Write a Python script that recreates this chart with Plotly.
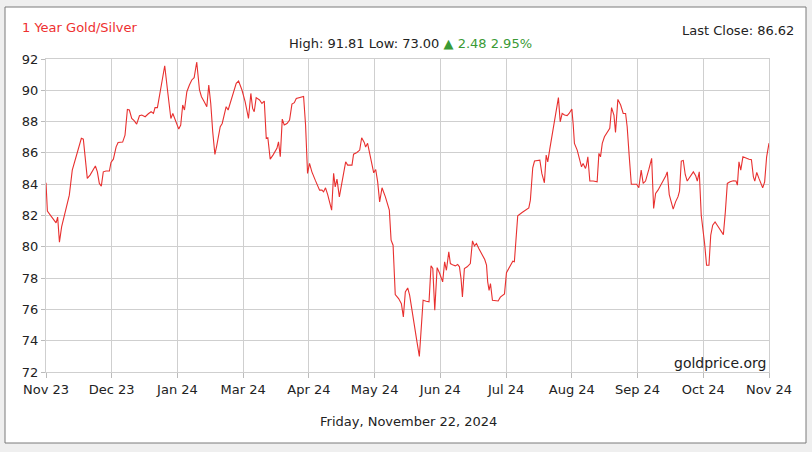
import pandas as pd
import numpy as np
import plotly.graph_objects as go

# ---- data (days after 2023-11-22, gold/silver ratio) ----
start_date = "2023-11-22"
days = [
    0.0, 0.7, 2.0, 4.6, 5.1, 5.9, 6.8, 7.9, 9.6, 11.8, 13.3, 14.2, 15.9, 17.9, 18.9,
    20.9, 22.3, 23.6, 25.0, 26.0, 27.0, 28.0, 29.0, 30.4, 32.1, 32.9, 34.1, 35.5, 36.5,
    38.8, 40.0, 41.2, 42.2, 43.4, 44.6, 45.9, 47.3, 48.5, 50.2, 51.8, 53.2, 54.4, 55.2,
    56.4, 57.8, 58.8, 60.1, 61.5, 63.2, 64.2, 65.4, 67.2, 68.2, 69.2, 70.1, 71.3, 72.6,
    73.8, 75.0, 76.3, 77.7, 78.7, 80.1, 81.4, 82.4, 83.4, 84.4, 85.5, 86.5, 88.2, 89.2,
    90.7,
    91.2, 92.2, 94.1, 96.3, 97.5, 99.2, 100.8, 102.5, 103.7, 104.6, 105.4, 106.4, 108.1,
    109.3, 110.5, 111.5, 112.3, 113.5, 114.9, 116.9, 117.7, 118.6, 119.6, 120.6, 122.0,
    123.3, 124.5, 125.7, 126.7, 128.7, 130.4, 131.4, 132.4, 133.4, 134.6, 136.3, 138.5,
    139.7, 140.5, 141.5, 142.6, 144.6, 145.6, 146.4, 147.3, 148.5, 150.3, 151.7, 152.7,
    154.9, 155.7, 157.4, 158.8, 159.8, 161.1, 161.8, 162.8, 163.8, 165.0, 165.9, 166.9,
    167.9, 168.9, 170.1, 171.8, 173.8, 174.7, 175.7, 176.8, 178.5, 179.9, 180.9,
    181.9, 183.1, 184.1, 185.3, 187.0, 187.8, 189.0, 189.8, 190.9, 192.5, 193.9, 194.9,
    195.8, 196.8, 198.0, 199.3, 200.8, 201.8, 202.7, 203.9, 204.7, 206.1, 207.2, 208.4,
    209.3, 210.1, 210.8, 211.8, 213.2, 214.8, 215.9, 216.9, 217.9, 219.1, 220.8, 222.1,
    223.0, 223.6, 224.3, 225.0, 226.0, 227.5, 228.9, 230.0, 232.1, 233.1, 234.3, 235.5,
    236.3, 237.1, 238.0, 238.8, 241.0, 242.7, 244.4, 245.2, 245.8, 246.4, 247.3, 250.0,
    251.0, 252.3, 253.2, 254.0, 255.0, 256.2, 257.4, 258.4, 259.4, 260.3, 261.3, 262.5,
    263.8, 264.8, 266.2, 266.9, 267.5, 268.9, 270.1, 271.1, 271.9, 273.1,
    273.6, 274.3, 275.3, 277.0, 279.0, 279.9, 280.7, 281.6, 282.7, 284.1, 285.4, 286.3,
    287.5, 288.3, 289.5, 290.9, 292.2, 293.4, 294.2, 295.2, 296.3, 297.6, 299.0, 300.1,
    301.3, 302.3, 303.5, 305.2, 306.6, 307.6, 308.6, 309.8, 311.1, 312.5, 313.7, 314.5,
    315.5, 316.5, 317.5, 318.7, 319.9, 320.7, 321.6, 322.6, 323.6, 324.6, 326.0, 327.7,
    328.9, 329.7, 330.7, 331.7, 333.4, 334.4, 335.6, 336.5, 337.5, 338.7, 339.8, 341.5,
    342.9, 343.9, 344.9, 346.3, 347.9, 349.3, 350.0, 350.8, 351.7, 352.8, 354.4, 355.9,
    357.1, 358.1, 358.8, 359.8, 360.9, 362.8, 363.8, 364.8, 366.0,
]
ratio = [
    84.09, 82.28, 82.06, 81.6, 81.53, 81.9, 80.3, 81.27, 82.13, 83.3, 84.9, 85.33, 85.97, 86.93, 86.88,
    84.37, 84.58, 84.9, 85.16, 84.79, 84.05, 83.88, 84.79, 84.84, 84.84, 85.39, 85.6, 86.39, 86.67,
    86.69, 87.14, 88.78, 88.74, 88.2, 88.06, 87.84, 88.37, 88.42, 88.31, 88.5, 88.63, 88.52, 88.89,
    88.89, 89.91, 90.55, 91.57, 90.02, 88.2, 88.52, 88.14, 87.52, 87.78, 89.06, 88.74, 89.91, 90.34,
    90.66, 90.81, 91.81, 90.02, 89.59, 89.27, 88.95, 90.34, 89.16, 87.35, 85.9, 86.5, 87.67, 87.88,
    88.63,
    88.95, 88.74, 89.48, 90.44, 90.59, 90.02, 89.27, 88.2, 89.8, 88.84, 88.63, 89.53, 89.38,
    89.16, 89.31, 86.93, 86.97, 85.6, 85.86, 86.29, 86.71, 85.75, 88.16, 87.78, 87.88,
    88.1, 89.12, 89.21, 89.48, 89.55, 89.61, 87.78, 84.69, 85.33, 84.79, 84.26, 83.62,
    83.62, 83.51, 83.77, 83.34, 82.34, 84.69, 83.83, 84.32, 83.19, 84.58, 85.43, 85.22,
    85.22, 85.92, 86.03, 86.18, 86.97, 86.67, 86.37, 86.61, 86.03, 85.33, 84.73, 84.94,
    84.15, 82.87, 83.77, 83.19, 82.34, 80.42, 80.1, 76.95, 76.69, 76.37, 75.52,
    77.12, 77.37, 76.9, 75.84, 74.56, 73.92, 73.00, 74.77, 76.58, 76.52, 76.48, 78.78,
    78.61, 75.94, 78.67, 78.29, 77.76, 79.04, 78.5, 79.68, 78.93, 78.83, 78.78, 78.87,
    78.72, 77.97, 76.8, 78.61, 78.72, 78.93, 80.38, 80.06, 80.21, 79.89, 79.46, 79.19,
    78.83, 77.76, 77.22, 77.65, 76.58, 76.54, 76.54, 76.78, 76.99, 78.35, 78.61, 78.87,
    79.08, 79.04, 80.74, 81.98, 82.19, 82.34, 82.49, 82.98, 84.26, 85.05, 85.48, 85.54,
    84.69, 84.09, 85.86, 85.43, 86.22, 87.14, 88.1, 88.84, 89.53, 87.99, 88.52, 88.42,
    88.38, 88.52, 88.8, 87.78, 86.61, 86.18, 85.65, 85.11, 85.33, 85.01,
    85.22, 85.75, 84.2, 84.2, 84.15, 85.97, 85.75, 86.61, 87.03, 87.35, 87.57, 88.89,
    88.42, 87.31, 89.42, 89.06, 88.52, 88.52, 87.67, 85.86, 84.0, 84.0, 84.0, 83.77,
    84.9, 84.05, 84.2, 84.96, 85.65, 82.45, 83.41, 83.62, 83.9, 84.26, 84.52, 84.79,
    83.34, 82.87, 82.41, 82.87, 83.19, 83.56, 85.48, 85.52, 84.62, 84.2, 84.47, 84.79,
    84.54, 84.2, 84.79, 82.02, 80.21, 78.82, 78.82, 80.74, 81.38, 81.59, 81.38, 81.06,
    80.78, 82.23, 84.05, 84.15, 84.22, 84.2, 83.94, 85.43, 84.9, 85.75, 85.65, 85.6,
    85.56, 84.47, 84.2, 84.75, 84.37, 83.77, 84.15, 85.75, 86.62,
]
tick_labels = ["Nov 23", "Dec 23", "Jan 24", "Mar 24", "Apr 24", "May 24",
               "Jun 24", "Jul 24", "Aug 24", "Sep 24", "Oct 24", "Nov 24"]
span_days = 366
y_ticks = [72, 74, 76, 78, 80, 82, 84, 86, 88, 90, 92]

title_text = "1 Year Gold/Silver"
last_close_text = "Last Close: 86.62"
stats_text = "High: 91.81 Low: 73.00 "
change_text = "\u25b2 2.48 2.95%"
date_text = "Friday, November 22, 2024"
brand_text = "goldprice.org"

# ---- build ----
t0 = pd.Timestamp(start_date)
x = t0 + pd.to_timedelta(days, unit="D")
tickvals = [t0 + pd.Timedelta(days=float(d)) for d in np.linspace(0, span_days, len(tick_labels))]
x_end = t0 + pd.Timedelta(days=span_days)

W, H = 812, 452
ml, mr, mt, mb = 46, 43, 59, 80
pw, ph = W - ml - mr, H - mt - mb

def px_x(p):
    return (p - ml) / pw

def px_y(p):
    return (H - mb - p) / ph

FONT = "DejaVu Sans"
fig = go.Figure()
fig.add_trace(go.Scatter(x=x, y=ratio, mode="lines",
                         line=dict(color="#e8302f", width=1.1),
                         hoverinfo="x+y", showlegend=False))

fig.update_layout(
    width=W, height=H,
    margin=dict(l=ml, r=mr, t=mt, b=mb, pad=0),
    paper_bgcolor="#efefef",
    plot_bgcolor="white",
    font=dict(family=FONT, size=13, color="#222"),
    xaxis=dict(type="date", range=[t0, x_end], tickmode="array",
               tickvals=tickvals, ticktext=tick_labels,
               showgrid=True, gridcolor="#cfcfcf", gridwidth=1,
               showline=True, linecolor="#cfcfcf", mirror=True,
               ticks="outside", ticklen=5, tickcolor="#bbbbbb",
               tickfont=dict(family=FONT, size=13, color="#222"),
               zeroline=False, fixedrange=True),
    yaxis=dict(range=[72, 92], tickmode="array", tickvals=y_ticks,
               showgrid=True, gridcolor="#cfcfcf", gridwidth=1,
               showline=True, linecolor="#cfcfcf", mirror=True,
               ticks="outside", ticklen=4, tickcolor="#bbbbbb",
               tickfont=dict(family=FONT, size=13, color="#222"),
               zeroline=False, fixedrange=True),
)

# white card with border
fig.add_shape(type="rect", xref="paper", yref="paper", layer="below",
              x0=px_x(5), x1=px_x(806), y0=px_y(443), y1=px_y(7),
              fillcolor="white", line=dict(color="#7a7a7a", width=1))

ann = [
    dict(text=title_text, x=px_x(20), y=px_y(27), xanchor="left", yanchor="middle",
         font=dict(family=FONT, size=13, color="#ee3030")),
    dict(text=last_close_text, x=px_x(796), y=px_y(30), xanchor="right", yanchor="middle",
         font=dict(family=FONT, size=13, color="#222")),
    dict(text=stats_text + "<span style='color:#3a9a35'>" + change_text + "</span>",
         x=px_x(410), y=px_y(44), xanchor="center", yanchor="middle",
         font=dict(family=FONT, size=13, color="#222")),
    dict(text=brand_text, x=px_x(768), y=px_y(363), xanchor="right", yanchor="middle",
         font=dict(family=FONT, size=14, color="#222")),
    dict(text=date_text, x=px_x(408), y=px_y(421), xanchor="center", yanchor="middle",
         font=dict(family=FONT, size=13, color="#222")),
]
for a in ann:
    fig.add_annotation(xref="paper", yref="paper", showarrow=False, **a)

fig.write_html("out.html", config={"displayModeBar": False})
